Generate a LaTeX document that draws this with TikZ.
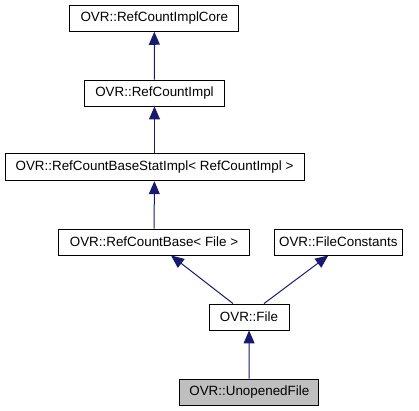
\documentclass[tikz,border=0pt]{standalone}
\usepackage{fontspec}
\setmainfont{Liberation Sans}
\usetikzlibrary{arrows.meta}
\definecolor{edgeblue}{HTML}{191970}
\definecolor{hlgray}{HTML}{BFBFBF}
\tikzset{
  cls/.style={draw=black, line width=0.9bp, fill=white, inner sep=0pt, minimum height=26bp, font=\fontsize{13.4bp}{15bp}\selectfont},
  inh/.style={draw=edgeblue, line width=1bp, -{Triangle[length=13bp,width=11bp,fill=edgeblue]}}
}
\begin{document}
\begin{tikzpicture}[x=1bp,y=-1bp]
\useasboundingbox (0,0) rectangle (419,411);
\node[cls, minimum width=168.7bp] (core) at (154.3,18.3) {OVR::RefCountImplCore};
\node[cls, minimum width=140.4bp] (impl) at (154.5,93) {OVR::RefCountImpl};
\node[cls, minimum width=299bp, minimum height=27.5bp] (stat) at (154.5,167) {OVR::RefCountBaseStatImpl< RefCountImpl >};
\node[cls, minimum width=190.6bp] (rcb) at (154,242) {OVR::RefCountBase< File >};
\node[cls, minimum width=128bp] (fc) at (338.3,242) {OVR::FileConstants};
\node[cls, minimum width=80bp] (file) at (249,317) {OVR::File};
\node[cls, minimum width=138.7bp, fill=hlgray] (unf) at (249.3,392) {OVR::UnopenedFile};
\draw[inh] (impl) -- (core);
\draw[inh] (stat) -- (impl);
\draw[inh] (rcb) -- (stat);
\draw[inh] ([xshift=-16bp]file.north) -- ([xshift=17bp]rcb.south);
\draw[inh] ([xshift=15bp]file.north) -- ([xshift=-10bp]fc.south);
\draw[inh] (unf) -- (file);
\end{tikzpicture}
\end{document}
